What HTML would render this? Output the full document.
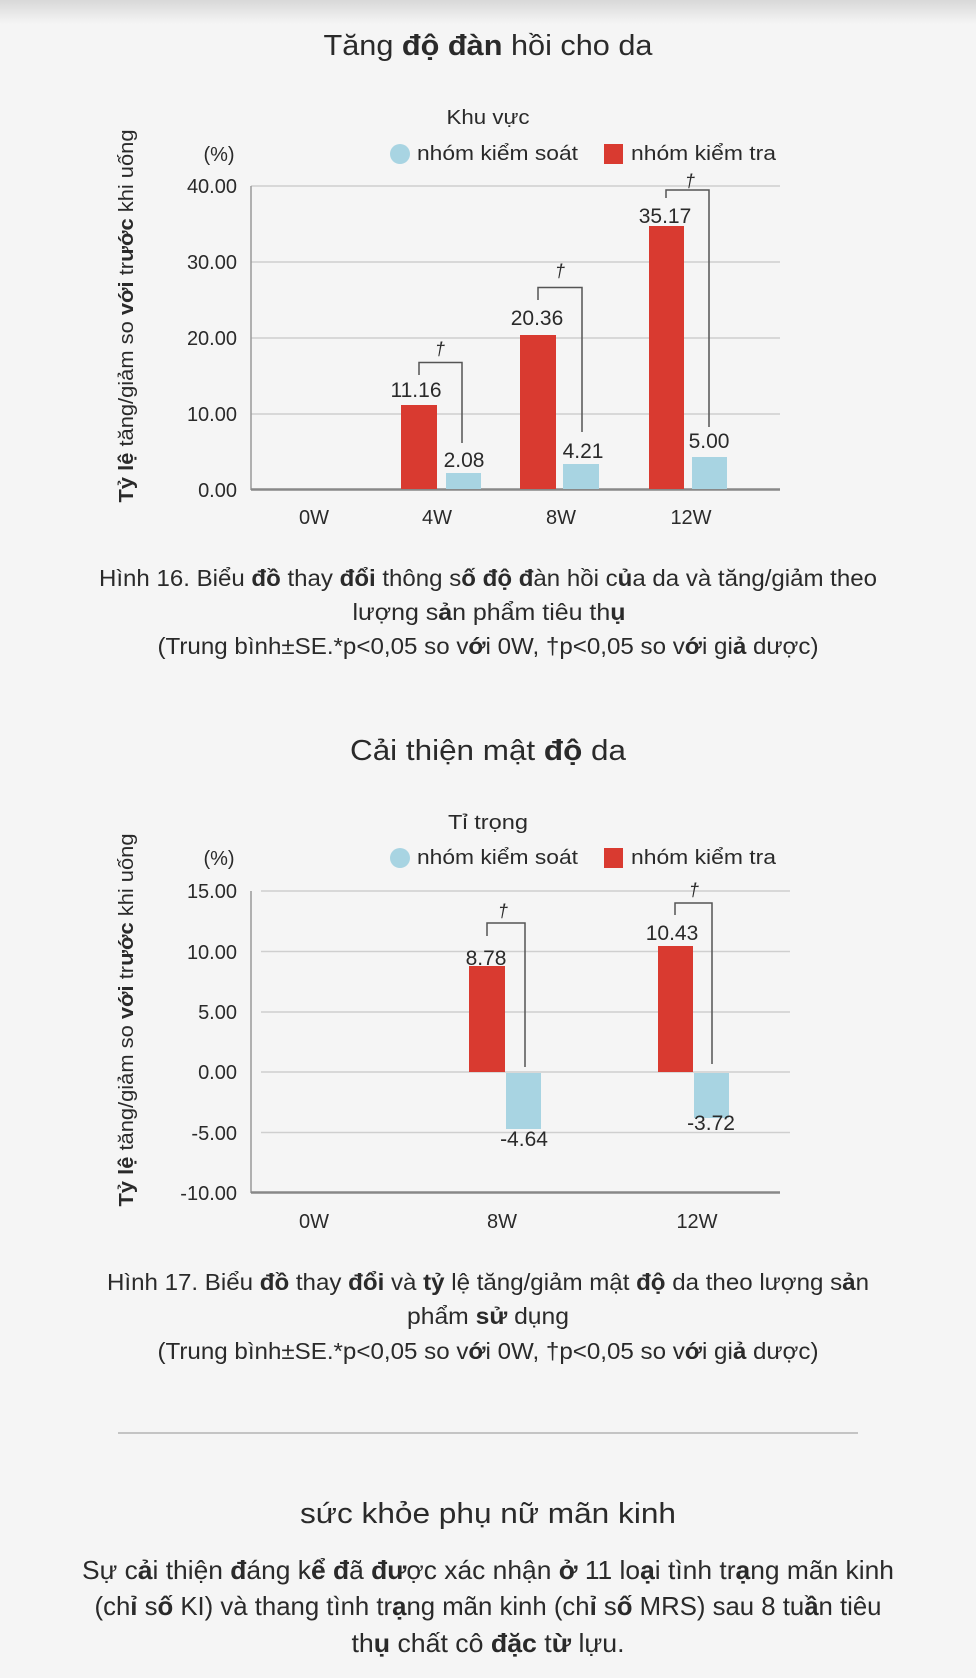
<!DOCTYPE html>
<html><head><meta charset="utf-8"><style>
html,body{margin:0;padding:0;background:#f5f5f5;}
svg{display:block;}
text{font-family:"Liberation Sans","Noto Sans CJK JP",sans-serif;fill:#2a2a2a;}
</style></head><body>
<svg width="976" height="1678" viewBox="0 0 976 1678" xmlns="http://www.w3.org/2000/svg">
<defs><linearGradient id="sh" x1="0" y1="0" x2="0" y2="1"><stop offset="0" stop-color="#d8d8d8"/><stop offset="1" stop-color="#f5f5f5"/></linearGradient></defs>
<rect width="976" height="1678" fill="#f5f5f5"/>
<rect width="976" height="24" fill="url(#sh)"/>

<!-- Chart 1 -->
<text x="488" y="55" text-anchor="middle" font-size="29" textLength="329" lengthAdjust="spacingAndGlyphs">Tăng <tspan font-weight="bold">độ đàn</tspan> hồi cho da</text>
<text x="488" y="124" text-anchor="middle" font-size="20" textLength="83" lengthAdjust="spacingAndGlyphs">Khu vực</text>
<circle cx="400" cy="154" r="10" fill="#a8d4e2"/>
<text x="417" y="160" font-size="20" textLength="161" lengthAdjust="spacingAndGlyphs">nhóm kiểm soát</text>
<rect x="604" y="144" width="19" height="20" fill="#d93a30"/>
<text x="631" y="160" font-size="20" textLength="145" lengthAdjust="spacingAndGlyphs">nhóm kiểm tra</text>
<text x="219" y="161" text-anchor="middle" font-size="20" fill="#444">(%)</text>
<text transform="translate(133,316) rotate(-90)" text-anchor="middle" font-size="20" textLength="373" lengthAdjust="spacingAndGlyphs"><tspan font-weight="bold">Tỷ lệ</tspan> tăng/giảm so <tspan font-weight="bold">với</tspan> tr<tspan font-weight="bold">ước</tspan> khi uống</text>
<g stroke="#cfcfcf" stroke-width="1.5">
<line x1="251" y1="186" x2="780" y2="186"/><line x1="251" y1="262" x2="780" y2="262"/><line x1="251" y1="338" x2="780" y2="338"/><line x1="251" y1="414" x2="780" y2="414"/>
</g>
<line x1="251" y1="186" x2="251" y2="490" stroke="#999" stroke-width="1.5"/>
<line x1="251" y1="489.5" x2="780" y2="489.5" stroke="#888" stroke-width="2.5"/>
<g font-size="20" text-anchor="end" fill="#444">
<text x="237" y="193">40.00</text><text x="237" y="269">30.00</text><text x="237" y="345">20.00</text><text x="237" y="421">10.00</text><text x="237" y="497">0.00</text>
</g>
<g fill="#d93a30"><rect x="401" y="405" width="36" height="84"/><rect x="520" y="335" width="36" height="154"/><rect x="649" y="226" width="35" height="263"/></g>
<g fill="#a8d4e2"><rect x="446" y="473" width="35" height="16"/><rect x="563" y="464" width="36" height="25"/><rect x="692" y="457" width="35" height="32"/></g>
<g fill="none" stroke="#555" stroke-width="1.5">
<polyline points="419,375 419,362.5 462,362.5 462,443"/>
<polyline points="538,300 538,287.5 582,287.5 582,432"/>
<polyline points="666,198 666,190 709,190 709,427"/>
</g>
<g font-size="18" fill="#d93a30" text-anchor="middle" font-style="italic"><text x="440" y="355">†</text><text x="560" y="277">†</text><text x="690" y="187">†</text></g>
<g font-size="21" text-anchor="middle" fill="#444">
<text x="416" y="397">11.16</text><text x="464" y="467">2.08</text><text x="537" y="325">20.36</text><text x="583" y="458">4.21</text><text x="665" y="223">35.17</text><text x="709" y="448">5.00</text>
</g>
<g font-size="20" text-anchor="middle" fill="#444"><text x="314" y="524">0W</text><text x="437" y="524">4W</text><text x="561" y="524">8W</text><text x="691" y="524">12W</text></g>

<text x="488" y="586" text-anchor="middle" font-size="23" textLength="778" lengthAdjust="spacingAndGlyphs">Hình 16. Biểu <tspan font-weight="bold">đồ</tspan> thay <tspan font-weight="bold">đổi</tspan> thông s<tspan font-weight="bold">ố độ đ</tspan>àn hồi c<tspan font-weight="bold">ủ</tspan>a da và tăng/giảm theo</text>
<text x="489" y="620" text-anchor="middle" font-size="23" textLength="273" lengthAdjust="spacingAndGlyphs">lượng s<tspan font-weight="bold">ả</tspan>n phẩm tiêu th<tspan font-weight="bold">ụ</tspan></text>
<text x="488" y="654" text-anchor="middle" font-size="23" textLength="661" lengthAdjust="spacingAndGlyphs">(Trung bình±SE.*p&lt;0,05 so v<tspan font-weight="bold">ớ</tspan>i 0W, †p&lt;0,05 so v<tspan font-weight="bold">ớ</tspan>i gi<tspan font-weight="bold">ả</tspan> dược)</text>

<!-- Chart 2 -->
<text x="488" y="760" text-anchor="middle" font-size="29" textLength="276" lengthAdjust="spacingAndGlyphs">Cải thiện mật <tspan font-weight="bold">độ</tspan> da</text>
<text x="488" y="829" text-anchor="middle" font-size="20" textLength="80" lengthAdjust="spacingAndGlyphs">Tỉ trọng</text>
<circle cx="400" cy="858" r="10" fill="#a8d4e2"/>
<text x="417" y="864" font-size="20" textLength="161" lengthAdjust="spacingAndGlyphs">nhóm kiểm soát</text>
<rect x="604" y="848" width="19" height="20" fill="#d93a30"/>
<text x="631" y="864" font-size="20" textLength="145" lengthAdjust="spacingAndGlyphs">nhóm kiểm tra</text>
<text x="219" y="865" text-anchor="middle" font-size="20" fill="#444">(%)</text>
<text transform="translate(133,1020) rotate(-90)" text-anchor="middle" font-size="20" textLength="373" lengthAdjust="spacingAndGlyphs"><tspan font-weight="bold">Tỷ lệ</tspan> tăng/giảm so <tspan font-weight="bold">với</tspan> tr<tspan font-weight="bold">ước</tspan> khi uống</text>
<g stroke="#cfcfcf" stroke-width="1.5">
<line x1="261" y1="891" x2="790" y2="891"/><line x1="261" y1="951.5" x2="790" y2="951.5"/><line x1="261" y1="1012" x2="790" y2="1012"/><line x1="261" y1="1072" x2="790" y2="1072"/><line x1="261" y1="1132.5" x2="790" y2="1132.5"/>
</g>
<line x1="251" y1="891" x2="251" y2="1193" stroke="#999" stroke-width="1.5"/>
<line x1="251" y1="1192.5" x2="780" y2="1192.5" stroke="#888" stroke-width="2.5"/>
<g font-size="20" text-anchor="end" fill="#444">
<text x="237" y="898">15.00</text><text x="237" y="959">10.00</text><text x="237" y="1019">5.00</text><text x="237" y="1079">0.00</text><text x="237" y="1140">-5.00</text><text x="237" y="1200">-10.00</text>
</g>
<g fill="#d93a30"><rect x="469" y="966" width="36" height="106"/><rect x="658" y="946" width="35" height="126"/></g>
<g fill="#a8d4e2"><rect x="506" y="1073" width="35" height="56"/><rect x="694" y="1073" width="35" height="45"/></g>
<g fill="none" stroke="#555" stroke-width="1.5">
<polyline points="487,936 487,923 525,923 525,1067"/>
<polyline points="675,915 675,903 712,903 712,1064"/>
</g>
<g font-size="18" fill="#d93a30" text-anchor="middle" font-style="italic"><text x="503" y="917">†</text><text x="694" y="896">†</text></g>
<g font-size="21" text-anchor="middle" fill="#444">
<text x="486" y="965">8.78</text><text x="672" y="940">10.43</text><text x="524" y="1146">-4.64</text><text x="711" y="1130">-3.72</text>
</g>
<g font-size="20" text-anchor="middle" fill="#444"><text x="314" y="1228">0W</text><text x="502" y="1228">8W</text><text x="697" y="1228">12W</text></g>

<text x="488" y="1290" text-anchor="middle" font-size="23" textLength="762" lengthAdjust="spacingAndGlyphs">Hình 17. Biểu <tspan font-weight="bold">đồ</tspan> thay <tspan font-weight="bold">đổi</tspan> và <tspan font-weight="bold">tỷ</tspan> lệ tăng/giảm mật <tspan font-weight="bold">độ</tspan> da theo lượng s<tspan font-weight="bold">ả</tspan>n</text>
<text x="488" y="1324" text-anchor="middle" font-size="23" textLength="162" lengthAdjust="spacingAndGlyphs">phẩm <tspan font-weight="bold">sử</tspan> dụng</text>
<text x="488" y="1359" text-anchor="middle" font-size="23" textLength="661" lengthAdjust="spacingAndGlyphs">(Trung bình±SE.*p&lt;0,05 so v<tspan font-weight="bold">ớ</tspan>i 0W, †p&lt;0,05 so v<tspan font-weight="bold">ớ</tspan>i gi<tspan font-weight="bold">ả</tspan> dược)</text>

<line x1="118" y1="1433" x2="858" y2="1433" stroke="#c4c4c4" stroke-width="2"/>

<text x="488" y="1523" text-anchor="middle" font-size="29" textLength="376" lengthAdjust="spacingAndGlyphs">sức khỏe phụ nữ mãn kinh</text>
<text x="488" y="1579" text-anchor="middle" font-size="26" textLength="812" lengthAdjust="spacingAndGlyphs">Sự c<tspan font-weight="bold">ả</tspan>i thiện <tspan font-weight="bold">đ</tspan>áng k<tspan font-weight="bold">ể đ</tspan>ã <tspan font-weight="bold">đư</tspan>ợc xác nhận <tspan font-weight="bold">ở</tspan> 11 lo<tspan font-weight="bold">ạ</tspan>i tình tr<tspan font-weight="bold">ạ</tspan>ng mãn kinh</text>
<text x="488" y="1615" text-anchor="middle" font-size="26" textLength="787" lengthAdjust="spacingAndGlyphs">(ch<tspan font-weight="bold">ỉ</tspan> s<tspan font-weight="bold">ố</tspan> KI) và thang tình tr<tspan font-weight="bold">ạ</tspan>ng mãn kinh (ch<tspan font-weight="bold">ỉ</tspan> s<tspan font-weight="bold">ố</tspan> MRS) sau 8 tu<tspan font-weight="bold">ầ</tspan>n tiêu</text>
<text x="488" y="1652" text-anchor="middle" font-size="26" textLength="273" lengthAdjust="spacingAndGlyphs">th<tspan font-weight="bold">ụ</tspan> chất cô <tspan font-weight="bold">đặc</tspan> t<tspan font-weight="bold">ừ</tspan> lựu.</text>
</svg>
</body></html>
